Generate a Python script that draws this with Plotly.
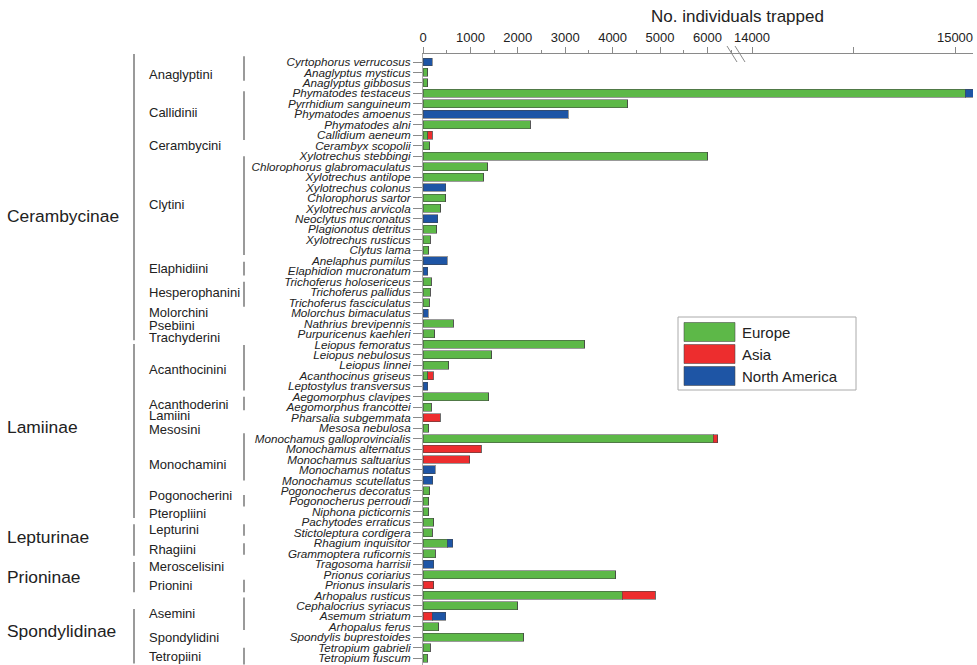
import plotly.graph_objects as go

species = [
    "Cyrtophorus verrucosus", "Anaglyptus mysticus", "Anaglyptus gibbosus",
    "Phymatodes testaceus", "Pyrrhidium sanguineum", "Phymatodes amoenus", "Phymatodes alni",
    "Callidium aeneum", "Cerambyx scopolii", "Xylotrechus stebbingi",
    "Chlorophorus glabromaculatus", "Xylotrechus antilope", "Xylotrechus colonus",
    "Chlorophorus sartor", "Xylotrechus arvicola", "Neoclytus mucronatus",
    "Plagionotus detritus", "Xylotrechus rusticus", "Clytus lama", "Anelaphus pumilus",
    "Elaphidion mucronatum", "Trichoferus holosericeus", "Trichoferus pallidus",
    "Trichoferus fasciculatus", "Molorchus bimaculatus", "Nathrius brevipennis",
    "Purpuricenus kaehleri", "Leiopus femoratus", "Leiopus nebulosus", "Leiopus linnei",
    "Acanthocinus griseus", "Leptostylus transversus", "Aegomorphus clavipes",
    "Aegomorphus francottei", "Pharsalia subgemmata", "Mesosa nebulosa",
    "Monochamus galloprovincialis", "Monochamus alternatus", "Monochamus saltuarius",
    "Monochamus notatus", "Monochamus scutellatus", "Pogonocherus decoratus",
    "Pogonocherus perroudi", "Niphona picticornis", "Pachytodes erraticus",
    "Stictoleptura cordigera", "Rhagium inquisitor", "Grammoptera ruficornis",
    "Tragosoma harrisii", "Prionus coriarius", "Prionus insularis", "Arhopalus rusticus",
    "Cephalocrius syriacus", "Asemum striatum", "Arhopalus ferus",
    "Spondylis buprestoides", "Tetropium gabrieli", "Tetropium fuscum",
]

europe = [0, 105, 100, 15050, 4320, 0, 2265, 105, 140, 6010,
          1370, 1285, 0, 480, 375, 0, 295, 155, 120, 0,
          0, 175, 150, 135, 0, 635, 245, 3410, 1450, 540,
          100, 0, 1390, 175, 0, 125, 6125, 0, 0, 0,
          0, 140, 125, 125, 225, 195, 515, 255, 0, 4065,
          0, 4205, 2000, 0, 330, 2125, 155, 90]
asia = [0, 0, 0, 0, 0, 0, 0, 85, 0, 0,
        0, 0, 0, 0, 0, 0, 0, 0, 0, 0,
        0, 0, 0, 0, 0, 0, 0, 0, 0, 0,
        120, 0, 0, 0, 365, 0, 95, 1230, 985, 0,
        0, 0, 0, 0, 0, 0, 0, 0, 0, 0,
        230, 695, 0, 190, 0, 0, 0, 0]
north_america = [190, 0, 0, 40, 0, 3060, 0, 0, 0, 0,
                 0, 0, 480, 0, 0, 315, 0, 0, 0, 515,
                 105, 0, 0, 0, 115, 0, 0, 0, 0, 0,
                 0, 100, 0, 0, 0, 0, 0, 0, 0, 255,
                 210, 0, 0, 0, 0, 0, 110, 0, 225, 0,
                 0, 0, 0, 290, 0, 0, 0, 0]

regions = ["Europe", "Asia", "North America"]
colors = ["#5DB848", "#ED2D2E", "#1E55A5"]

# tribes: (name, label row, line start row, line end row or None)
tribes = [
    ("Anaglyptini", 1.15, -0.55, 1.8), ("Callidinii", 4.85, 2.8, 7.45),
    ("Cerambycini", 8.03, None, None), ("Clytini", 13.6, 9.0, 18.45),
    ("Elaphidiini", 19.7, 19.1, 20.4), ("Hesperophanini", 22.05, 21.0, 23.4),
    ("Molorchini", 23.97, None, None), ("Psebiini", 25.2, None, None),
    ("Trachyderini", 26.3, None, None), ("Acanthocinini", 29.4, 27.05, 31.4),
    ("Acanthoderini", 32.7, 32.0, 33.3), ("Lamiini", 33.8, None, None),
    ("Mesosini", 35.1, None, None), ("Monochamini", 38.5, 35.5, 40.0),
    ("Pogonocherini", 41.4, 41.4, 42.5), ("Pteropliini", 43.15, None, None),
    ("Lepturini", 44.7, 44.2, 45.3), ("Rhagiini", 46.65, 46.0, 47.1),
    ("Meroscelisini", 48.2, None, None), ("Prionini", 50.05, 49.5, 50.7),
    ("Asemini", 52.7, 51.2, 54.3), ("Spondylidini", 55.0, None, None),
    ("Tetropiini", 56.85, 56.0, 57.6),
]
subfamilies = [
    ("Cerambycinae", 14.7, -0.76, 26.6), ("Lamiinae", 34.9, 26.95, 43.6),
    ("Lepturinae", 45.45, 44.2, 47.2), ("Prioninae", 49.2, 47.8, 50.7),
    ("Spondylidinae", 54.4, 52.3, 57.5),
]

FONT = "Liberation Sans, Arial, sans-serif"
W, H = 977, 665
L, R, T, B = 423, 4, 54, 0
PW, PH = W - L - R, H - T - B
split_px = 738


def px_x(px):
    return (px - L) / PW


def px_y(py):
    return (H - B - py) / PH


rows = list(range(len(species)))
fig = go.Figure()
for xa in ["x", "x2"]:
    for name, vals, col in zip(regions, [europe, asia, north_america], colors):
        fig.add_trace(go.Bar(
            y=rows, x=vals, orientation="h", name=name, xaxis=xa, yaxis="y",
            marker=dict(color=col, line=dict(color="rgba(70,70,70,0.55)", width=1)),
            width=0.76, showlegend=False, hoverinfo="x+y",
        ))

d1 = px_x(split_px)
axis_common = dict(
    side="top", anchor="y", showgrid=False, zeroline=False, showline=True,
    linecolor="#8a8a8a", linewidth=1, ticks="outside", ticklen=6, tickcolor="#8a8a8a",
    tickfont=dict(family=FONT, size=13, color="#222"), fixedrange=True,
)
fig.update_layout(
    width=W, height=H, barmode="stack", bargap=0.2,
    margin=dict(l=L, r=R, t=T, b=B, autoexpand=False),
    paper_bgcolor="white", plot_bgcolor="white",
    font=dict(family=FONT, color="#222"),
    xaxis=dict(domain=[0, d1], range=[0, (split_px - L) / 47.4 * 1000],
               tickmode="array", tickvals=[0, 1000, 2000, 3000, 4000, 5000, 6000],
               minor=dict(dtick=500, ticks="outside", ticklen=3, tickcolor="#8a8a8a", showgrid=False),
               **axis_common),
    xaxis2=dict(domain=[d1, 1], range=[14000 - (752 - split_px) / 203 * 1000, 15000 + (973 - 955) / 203 * 1000],
                tickmode="array", tickvals=[14000, 14500, 15000], ticktext=["14000", "", "15000"],
                **axis_common),
    yaxis=dict(range=[(H - B - 62) / 10.46, (T - 62) / 10.46], anchor="x",
               tickmode="array", tickvals=rows, ticktext=["<i>%s</i>" % s for s in species],
               tickfont=dict(family=FONT, size=11.7, color="#222"),
               ticks="outside", ticklen=9, tickcolor="#8a8a8a", showline=True,
               linecolor="#aaaaaa", linewidth=1, showgrid=False, zeroline=False,
               automargin=False, fixedrange=True),
)

shapes = []
annotations = []
# axis break marks
for x0 in (727, 735):
    shapes.append(dict(type="line", xref="paper", yref="paper",
                       x0=px_x(x0), x1=px_x(x0 + 10), y0=px_y(46), y1=px_y(62),
                       line=dict(color="#8a8a8a", width=1)))

for name, yl, y0, y1 in tribes:
    annotations.append(dict(text=name, xref="paper", yref="y", x=px_x(147), y=yl,
                            xanchor="left", yanchor="middle", showarrow=False,
                            font=dict(family=FONT, size=13, color="#222")))
    if y0 is not None:
        shapes.append(dict(type="line", xref="paper", yref="y", x0=px_x(244), x1=px_x(244),
                           y0=y0, y1=y1, line=dict(color="#9a9a9a", width=2)))
for name, yl, y0, y1 in subfamilies:
    annotations.append(dict(text=name, xref="paper", yref="y", x=px_x(5), y=yl,
                            xanchor="left", yanchor="middle", showarrow=False,
                            font=dict(family=FONT, size=17.4, color="#222")))
    shapes.append(dict(type="line", xref="paper", yref="y", x0=px_x(134), x1=px_x(134),
                       y0=y0, y1=y1, line=dict(color="#9a9a9a", width=2)))

annotations.append(dict(text="No. individuals trapped", xref="paper", yref="paper",
                        x=px_x(737), y=px_y(17), xanchor="center", yanchor="middle",
                        showarrow=False, font=dict(family=FONT, size=17, color="#222")))

# legend box
shapes.append(dict(type="rect", xref="paper", yref="paper", x0=px_x(678), x1=px_x(856),
                   y0=px_y(390), y1=px_y(317), line=dict(color="#aaaaaa", width=1),
                   fillcolor="white", layer="above"))
sw = [(322.5, 341.5), (344.5, 363.5), (366.5, 385.5)]
for (a, b), name, col in zip(sw, regions, colors):
    shapes.append(dict(type="rect", xref="paper", yref="paper", x0=px_x(684), x1=px_x(735),
                       y0=px_y(b), y1=px_y(a), fillcolor=col,
                       line=dict(color="rgba(70,70,70,0.55)", width=1), layer="above"))
    annotations.append(dict(text=name, xref="paper", yref="paper", x=px_x(740), y=px_y((a + b) / 2),
                            xanchor="left", yanchor="middle", showarrow=False,
                            font=dict(family=FONT, size=15, color="#222")))

fig.update_layout(shapes=shapes, annotations=annotations)
fig.write_html("out.html", config={"displayModeBar": False},
               post_script="document.body.style.margin='0';document.body.style.overflow='hidden';")
